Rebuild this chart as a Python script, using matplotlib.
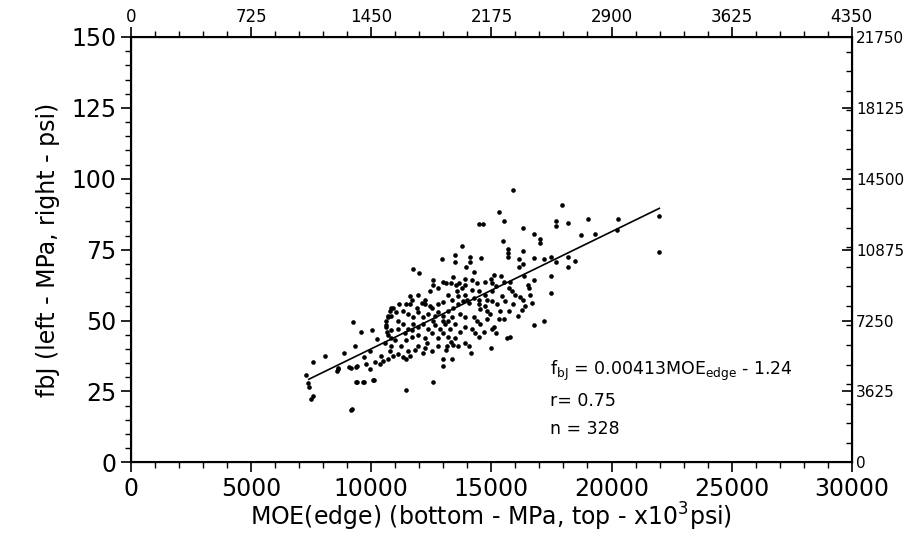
#MOE(edge) vs fbJ scatter with regression line
#twin axes for psi units

import numpy as np
import matplotlib
matplotlib.use("Agg")
import matplotlib.pyplot as plt
from matplotlib.ticker import MultipleLocator

plt.rcParams['font.family'] = ['DejaVu Sans']

# MOE edge (MPa) and fbJ (MPa)
moe = [15902, 17953, 15330, 19013, 14465, 14632, 15511, 17674, 17674, 18204,
       16320, 16767, 17004, 17004, 18733, 19306, 15497, 13795, 15693, 15693,
       15693, 16306, 13489, 13489, 14116, 14116, 14577, 12958, 16139, 16767,
       17185, 17464, 18204, 18483, 18204, 17674, 13935, 14256, 11745, 11982,
       16139, 16306, 15093, 14995, 15414, 15511, 16348, 16767, 17464, 16530,
       13419, 12582, 12582, 13000, 13098, 13321, 13516, 13656, 13907, 13907,
       15023, 15190, 15721, 15860, 17464, 16181, 16306, 16627, 16697, 15888,
       16558, 14744, 14465, 14186, 13907, 13628, 13349, 13210, 13000, 12791,
       12512, 12233, 12233, 11884, 11606, 11145, 10908, 10768, 10699, 10629,
       10629, 10838, 11326, 11536, 11745, 11954, 12163, 12373, 12582, 12791,
       13000, 13210, 13419, 13628, 13838, 14047, 14256, 14465, 14744, 14814,
       14507, 14925, 15302, 15093, 15190, 15023, 15232, 15372, 14256, 14395,
       14535, 14186, 14298, 14465, 13698, 13907, 13489, 13279, 13070, 12861,
       12652, 12373, 12163, 11954, 11745, 11536, 11326, 11117, 11117, 11396,
       11675, 11954, 12233, 12512, 12791, 13000, 13210, 13489, 13907, 14047,
       14158, 13628, 13419, 13321, 13140, 13098, 13000, 13349, 13000, 12582,
       12791, 12512, 12303, 12233, 12163, 11954, 11815, 11536, 11606, 11466,
       11326, 11466, 11117, 10838, 10768, 10908, 10699, 10392, 10489, 10350,
       10141, 9931, 9694, 9304, 8885, 9373, 9136, 8606, 8578, 8076,
       7560, 7281, 7378, 7420, 7560, 7490, 9164, 9373, 9652, 10071,
       14995, 15790, 15651, 16767, 17185, 16097, 16278, 9234, 9583, 10030,
       10252, 11466, 11702, 10838, 10559, 10838, 11047, 12443, 12791, 13559,
       13768, 13977, 14465, 14814, 15023, 15442, 15581, 14744, 14395, 14186,
       15790, 16000, 16418, 15721, 15511, 15023, 14814, 14674, 13907, 13698,
       13349, 13210, 13000, 12652, 12443, 12094, 11675, 11466, 11954, 11606,
       10699, 11257, 11006, 9931, 9792, 10837, 10698, 10628, 10656, 8606,
       9093, 9400, 9400, 9694, 10097, 9205, 20251, 20222, 21996, 21996]
fbj = [96.0, 90.7, 88.4, 85.8, 84.1, 83.9, 85.0, 85.2, 83.2, 84.3,
       82.7, 80.5, 78.7, 77.3, 80.1, 80.7, 77.9, 76.4, 75.2, 73.9,
       72.5, 74.5, 73.0, 70.5, 72.5, 70.7, 72.2, 71.6, 71.6, 72.2,
       71.6, 72.5, 72.5, 71.0, 68.8, 70.5, 68.8, 67.3, 68.2, 66.8,
       68.8, 69.9, 66.2, 64.6, 65.9, 63.7, 65.7, 64.2, 65.7, 62.5,
       65.4, 64.2, 62.5, 63.7, 63.1, 63.1, 62.5, 63.1, 64.6, 62.5,
       63.1, 62.3, 61.4, 60.3, 59.7, 58.2, 57.1, 59.1, 56.3, 55.9,
       61.4, 59.1, 60.3, 60.8, 59.1, 58.5, 57.4, 59.1, 56.6, 55.7,
       54.6, 57.4, 55.7, 54.6, 55.7, 55.9, 54.6, 53.4, 51.7, 50.0,
       47.8, 46.6, 53.4, 52.3, 51.2, 52.9, 51.2, 52.3, 50.0, 52.9,
       51.7, 53.4, 54.6, 55.7, 56.8, 56.3, 58.0, 55.7, 55.1, 53.4,
       54.0, 52.3, 50.6, 47.8, 45.5, 56.8, 55.7, 53.4, 51.2, 50.0,
       48.9, 47.2, 45.5, 44.3, 46.0, 47.8, 48.9, 47.2, 48.9, 47.2,
       48.3, 47.2, 48.9, 47.8, 48.9, 47.2, 48.9, 50.0, 47.2, 45.5,
       44.3, 44.9, 43.8, 45.5, 43.8, 45.5, 44.3, 43.8, 42.1, 40.9,
       38.4, 40.9, 41.5, 42.6, 40.9, 39.8, 36.4, 36.4, 34.1, 28.4,
       40.9, 39.2, 42.1, 40.4, 38.7, 40.9, 39.8, 39.2, 37.5, 25.6,
       37.0, 36.4, 38.1, 40.9, 39.2, 37.5, 36.4, 37.5, 35.8, 34.7,
       35.3, 39.2, 37.0, 41.2, 38.7, 33.8, 33.2, 33.2, 32.1, 37.5,
       35.3, 30.7, 27.9, 26.7, 23.3, 22.2, 18.4, 28.2, 28.4, 29.0,
       40.4, 44.3, 43.8, 48.6, 49.8, 51.7, 53.7, 49.5, 46.0, 46.8,
       43.4, 43.0, 46.6, 43.8, 42.1, 51.7, 52.9, 60.3, 61.4, 60.3,
       61.4, 57.4, 57.4, 57.4, 60.3, 58.5, 56.8, 63.7, 63.1, 64.2,
       63.7, 59.1, 55.1, 53.4, 50.6, 47.2, 50.6, 46.0, 51.2, 52.3,
       51.2, 50.0, 50.0, 51.7, 55.1, 56.3, 57.4, 55.7, 59.1, 58.5,
       44.9, 40.9, 43.2, 33.0, 34.7, 54.5, 51.1, 48.3, 46.0, 33.0,
       33.5, 34.1, 28.2, 28.2, 29.2, 18.8, 85.8, 82.1, 86.9, 74.1]

# regression f = 0.00413 MOE - 1.24
slope = 0.00413
intercept = -1.24
line_x = [7400, 21990]

x_ticks = [0, 5000, 10000, 15000, 20000, 25000, 30000]
y_ticks = [0, 25, 50, 75, 100, 125, 150]
top_ticks = [0, 725, 1450, 2175, 2900, 3625, 4350]
right_ticks = [0, 3625, 7250, 10875, 14500, 18125, 21750]

fig = plt.figure(figsize=(9.1, 5.44), dpi=100)
ax = fig.add_axes([0.144, 0.150, 0.792, 0.782])

ax.scatter(moe, fbj, s=11, color='black', linewidths=0, zorder=3)
lx = np.array(line_x)
ax.plot(lx, slope*lx + intercept, color='black', lw=1.2)

ax.set_xlim(0, 30000)
ax.set_ylim(0, 150)
ax.set_xticks(x_ticks)
ax.set_yticks(y_ticks)
ax.xaxis.set_minor_locator(MultipleLocator(1000))
ax.yaxis.set_minor_locator(MultipleLocator(5))
ax.tick_params(axis='both', which='major', labelsize=17, length=7, width=1.2, direction='out')
ax.tick_params(axis='both', which='minor', length=4, width=1, direction='out')
for s in ax.spines.values():
    s.set_linewidth(1.5)

ax.set_xlabel('MOE(edge) (bottom - MPa, top - x10$^3$psi)', fontsize=17, labelpad=0)
ax.set_ylabel('fbJ (left - MPa, right - psi)', fontsize=17, labelpad=8)

ax.text(17450, 32.4, 'f$_{\\mathrm{bJ}}$ = 0.00413MOE$_{\\mathrm{edge}}$ - 1.24', fontsize=12.5, va='center')
ax.text(17450, 21.5, 'r= 0.75', fontsize=12.5, va='center')
ax.text(17450, 11.9, 'n = 328', fontsize=12.5, va='center')

top = ax.twiny()
top.set_xlim(0, 4350)
top.set_xticks(top_ticks)
top.xaxis.set_minor_locator(MultipleLocator(145))
top.tick_params(which='major', labelsize=12, length=7, width=1.2, pad=1)
top.tick_params(which='minor', length=4, width=1)

right = ax.twinx()
right.set_ylim(0, 21750)
right.set_yticks(right_ticks)
right.yaxis.set_minor_locator(MultipleLocator(1000))
right.tick_params(which='major', labelsize=11, length=7, width=1.2, direction='in', pad=3)
right.tick_params(which='minor', length=4, width=1, direction='in')

fig.savefig('out.png', dpi=100)
